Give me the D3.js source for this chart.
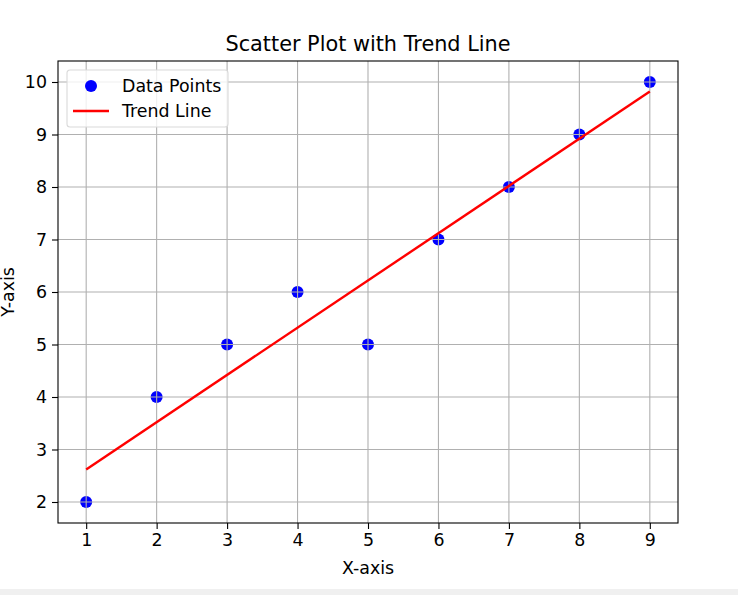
<!DOCTYPE html>
<html>
<head>
<meta charset="utf-8">
<script src="https://cdn.jsdelivr.net/npm/d3@7"></script>
<style>
	body { margin: 0; background: #fff; }
	svg { display: block; font-family: "DejaVu Sans", sans-serif; }
	.grid line { stroke: #b0b0b0; stroke-width: 1.1; }
</style>
</head>
<body>
<svg id="chart"></svg>
<script>
// data
const x_values = [1, 2, 3, 4, 5, 6, 7, 8, 9];
const y_values = [2, 4, 5, 6, 5, 7, 8, 9, 10];
const trend_x = [1, 9];
const trend_y = [2.62, 9.82];
const x_ticks = [1, 2, 3, 4, 5, 6, 7, 8, 9];
const y_ticks = [2, 3, 4, 5, 6, 7, 8, 9, 10];

const WIDTH = 738;
const HEIGHT = 595;
const margin = {top: 61, right: 60, bottom: 72, left: 58};
const FONT = 17.4;

const svg = d3.select('#chart')
	.attr('width', WIDTH)
	.attr('height', HEIGHT);

// grey strip at the very bottom of the window
svg.append('rect')
	.attr('x', 0).attr('y', 589)
	.attr('width', WIDTH).attr('height', HEIGHT - 589)
	.attr('fill', '#f0f0f0');

const x = d3.scaleLinear()
	.domain([0.6, 9.4])
	.range([margin.left, WIDTH - margin.right]);

const y = d3.scaleLinear()
	.domain([1.6, 10.4])
	.range([HEIGHT - margin.bottom, margin.top]);

// points
svg.append('g')
	.selectAll('circle')
	.data(x_values.map((d, i) => [d, y_values[i]]))
	.enter().append('circle')
	.attr('cx', d => x(d[0]))
	.attr('cy', d => y(d[1]))
	.attr('r', 6)
	.attr('fill', '#0000ff');

// grid, drawn over the points like the original
const grid = svg.append('g').attr('class', 'grid');
grid.selectAll('.gx')
	.data(x_ticks)
	.enter().append('line')
	.attr('x1', d => x(d)).attr('x2', d => x(d))
	.attr('y1', y.range()[0]).attr('y2', y.range()[1]);
grid.selectAll('.gy')
	.data(y_ticks)
	.enter().append('line')
	.attr('y1', d => y(d)).attr('y2', d => y(d))
	.attr('x1', x.range()[0]).attr('x2', x.range()[1]);

// trend line
const line = d3.line()
	.x(d => x(d[0]))
	.y(d => y(d[1]));

svg.append('path')
	.datum(trend_x.map((d, i) => [d, trend_y[i]]))
	.attr('d', line)
	.attr('fill', 'none')
	.attr('stroke', '#ff0000')
	.attr('stroke-width', 2.4);

// axes
const styleAxis = g => {
	g.attr('font-size', FONT).attr('font-family', '"DejaVu Sans", sans-serif');
	g.select('.domain').remove();
	g.selectAll('line').attr('stroke', '#000').attr('stroke-width', 1.1);
	g.selectAll('text').attr('fill', '#000');
};

svg.append('g')
	.attr('transform', `translate(0,${y.range()[0]})`)
	.call(d3.axisBottom(x).tickValues(x_ticks).tickSize(6).tickPadding(5).tickSizeOuter(0))
	.call(styleAxis);

svg.append('g')
	.attr('transform', `translate(${x.range()[0]},0)`)
	.call(d3.axisLeft(y).tickValues(y_ticks).tickSize(6).tickPadding(5).tickSizeOuter(0))
	.call(styleAxis);

// frame
svg.append('rect')
	.attr('x', x.range()[0])
	.attr('y', y.range()[1])
	.attr('width', x.range()[1] - x.range()[0])
	.attr('height', y.range()[0] - y.range()[1])
	.attr('fill', 'none')
	.attr('stroke', '#000')
	.attr('stroke-width', 1.1);

// title and labels
svg.append('text')
	.attr('x', (x.range()[0] + x.range()[1]) / 2)
	.attr('y', 51)
	.attr('text-anchor', 'middle')
	.attr('font-size', 20.8)
	.text('Scatter Plot with Trend Line');

svg.append('text')
	.attr('x', (x.range()[0] + x.range()[1]) / 2)
	.attr('y', 574)
	.attr('text-anchor', 'middle')
	.attr('font-size', FONT)
	.text('X-axis');

svg.append('text')
	.attr('transform', `translate(14,${(y.range()[0] + y.range()[1]) / 2}) rotate(-90)`)
	.attr('text-anchor', 'middle')
	.attr('font-size', FONT)
	.text('Y-axis');

// legend
const legend = svg.append('g').attr('transform', 'translate(67,70)');
legend.append('rect')
	.attr('width', 161).attr('height', 57)
	.attr('rx', 3)
	.attr('fill', '#fff').attr('fill-opacity', 0.8)
	.attr('stroke', '#d9d9d9').attr('stroke-width', 1.1);

legend.append('circle')
	.attr('cx', 24).attr('cy', 16)
	.attr('r', 6)
	.attr('fill', '#0000ff');
legend.append('text')
	.attr('x', 55).attr('y', 22)
	.attr('font-size', FONT)
	.text('Data Points');

legend.append('line')
	.attr('x1', 6).attr('x2', 42)
	.attr('y1', 41).attr('y2', 41)
	.attr('stroke', '#ff0000').attr('stroke-width', 2.4);
legend.append('text')
	.attr('x', 55).attr('y', 47)
	.attr('font-size', FONT)
	.text('Trend Line');
</script>
</body>
</html>
